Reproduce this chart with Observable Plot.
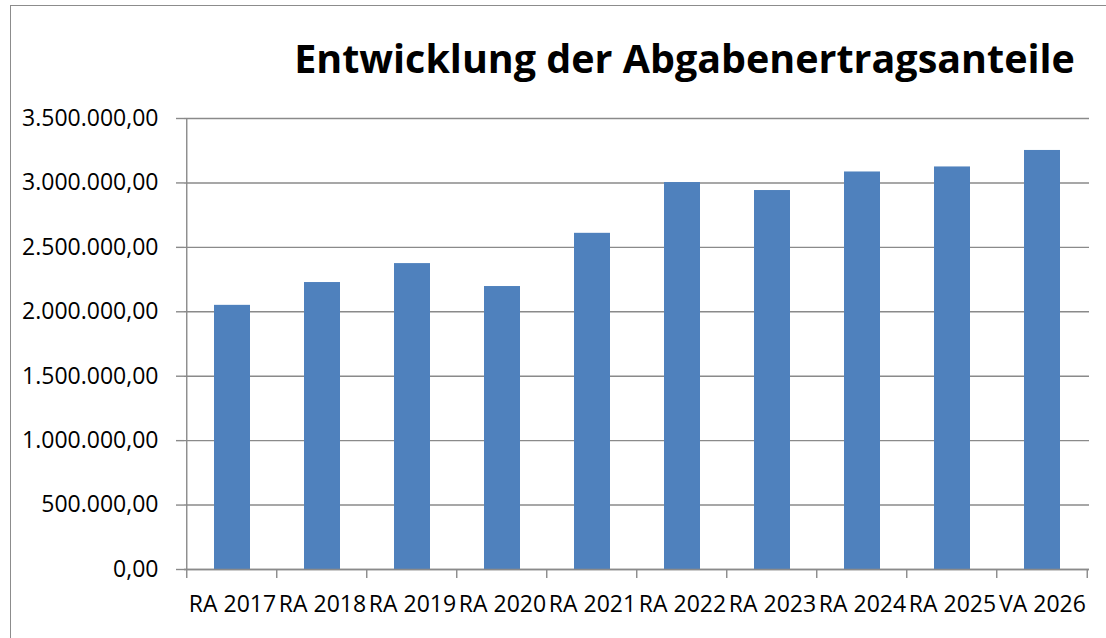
<!DOCTYPE html>
<html>
<head>
<meta charset="utf-8">
<script src="https://cdn.jsdelivr.net/npm/d3@7"></script>
<script src="https://cdn.jsdelivr.net/npm/@observablehq/plot@0.6"></script>
<style>
  html, body { margin: 0; padding: 0; background: #fff; }
  body { width: 1106px; height: 638px; position: relative; overflow: hidden; font-family: "Open Sans", sans-serif; }
  #frame { position: absolute; left: 10px; top: 5px; width: 1110px; height: 650px; border: 1px solid #8c8c8c; box-sizing: border-box; }
  #title { position: absolute; left: 0; width: 1106px; top: 42px; text-align: center; line-height: 1; font-weight: 700; color: #000; white-space: nowrap; }
  #title span { display: inline-block; }
  #chart { position: absolute; left: 0; top: 100px; }
</style>
</head>
<body>
<div id="frame"></div>
<div id="title"><span id="tspan">Entwicklung der Abgabenertragsanteile</span></div>
<div id="chart"></div>
<script>
const categories = ["RA 2017", "RA 2018", "RA 2019", "RA 2020", "RA 2021", "RA 2022", "RA 2023", "RA 2024", "RA 2025", "VA 2026"];
const values = [2050000, 2227000, 2374000, 2196000, 2609000, 3003000, 2941000, 3085000, 3124000, 3252000];
const yTicks = [0, 500000, 1000000, 1500000, 2000000, 2500000, 3000000, 3500000];

const data = categories.map((c, i) => ({category: c, value: values[i]}));

const de = d3.formatLocale({decimal: ",", thousands: ".", grouping: [3], currency: ["", " €"]});
const fmt = de.format(",.2f");

const W = 1106, H = 530, ML = 184, MR = 17, MT = 18, MB = 61;
const step = (W - ML - MR) / categories.length;
const GRID = "#8a8a8a";

const plot = Plot.plot({
  width: W,
  height: H,
  marginLeft: ML,
  marginRight: MR,
  marginTop: MT,
  marginBottom: MB,
  style: {fontFamily: "Open Sans", fontSize: "23px", color: "#000", background: "transparent"},
  x: {domain: categories, paddingInner: 0.6, paddingOuter: 0.3, label: null},
  y: {domain: [0, 3500000], label: null},
  marks: [
    Plot.gridY(yTicks, {stroke: GRID, strokeOpacity: 1, strokeWidth: 1.4}),
    Plot.barY(data, {x: "category", y: "value", fill: "#4F81BD"}),
    Plot.ruleY([0], {stroke: GRID, strokeWidth: 1.4}),
    Plot.axisY(yTicks, {tickFormat: fmt, tickSize: 8, tickPadding: 18, stroke: GRID, strokeWidth: 1.4, fill: "#000", fontSize: 23}),
    Plot.axisX({tickSize: 0, tickPadding: 26, fill: "#000", fontSize: 23})
  ]
});
document.getElementById("chart").appendChild(plot);

// axis line and category boundary ticks, positioned through the plot's scales
const xs = plot.scale("x");
const ys = plot.scale("y");
const ns = "http://www.w3.org/2000/svg";
const g = document.createElementNS(ns, "g");
const y0 = ys.apply(0), yTop = ys.apply(3500000);
const bounds = categories.map(c => xs.apply(c) + xs.bandwidth / 2 - step / 2)
  .concat([xs.apply(categories[categories.length - 1]) + xs.bandwidth / 2 + step / 2]);
function line(x1, y1, x2, y2) {
  const l = document.createElementNS(ns, "line");
  l.setAttribute("x1", x1); l.setAttribute("x2", x2);
  l.setAttribute("y1", y1); l.setAttribute("y2", y2);
  l.setAttribute("stroke", GRID); l.setAttribute("stroke-width", 1.4);
  g.appendChild(l);
}
line(bounds[0], yTop, bounds[0], y0);
bounds.forEach(bx => line(bx, y0, bx, y0 + 9));
plot.appendChild(g);

// fit title width
const t = document.getElementById("tspan");
t.style.fontSize = "40px";
const w = t.getBoundingClientRect().width;
const fs = 40 * 781 / w;
t.style.fontSize = fs + "px";
const title = document.getElementById("title");
title.style.top = (74 - 0.888 * fs) + "px";
title.style.left = (684.5 - 553) + "px";
</script>
</body>
</html>
